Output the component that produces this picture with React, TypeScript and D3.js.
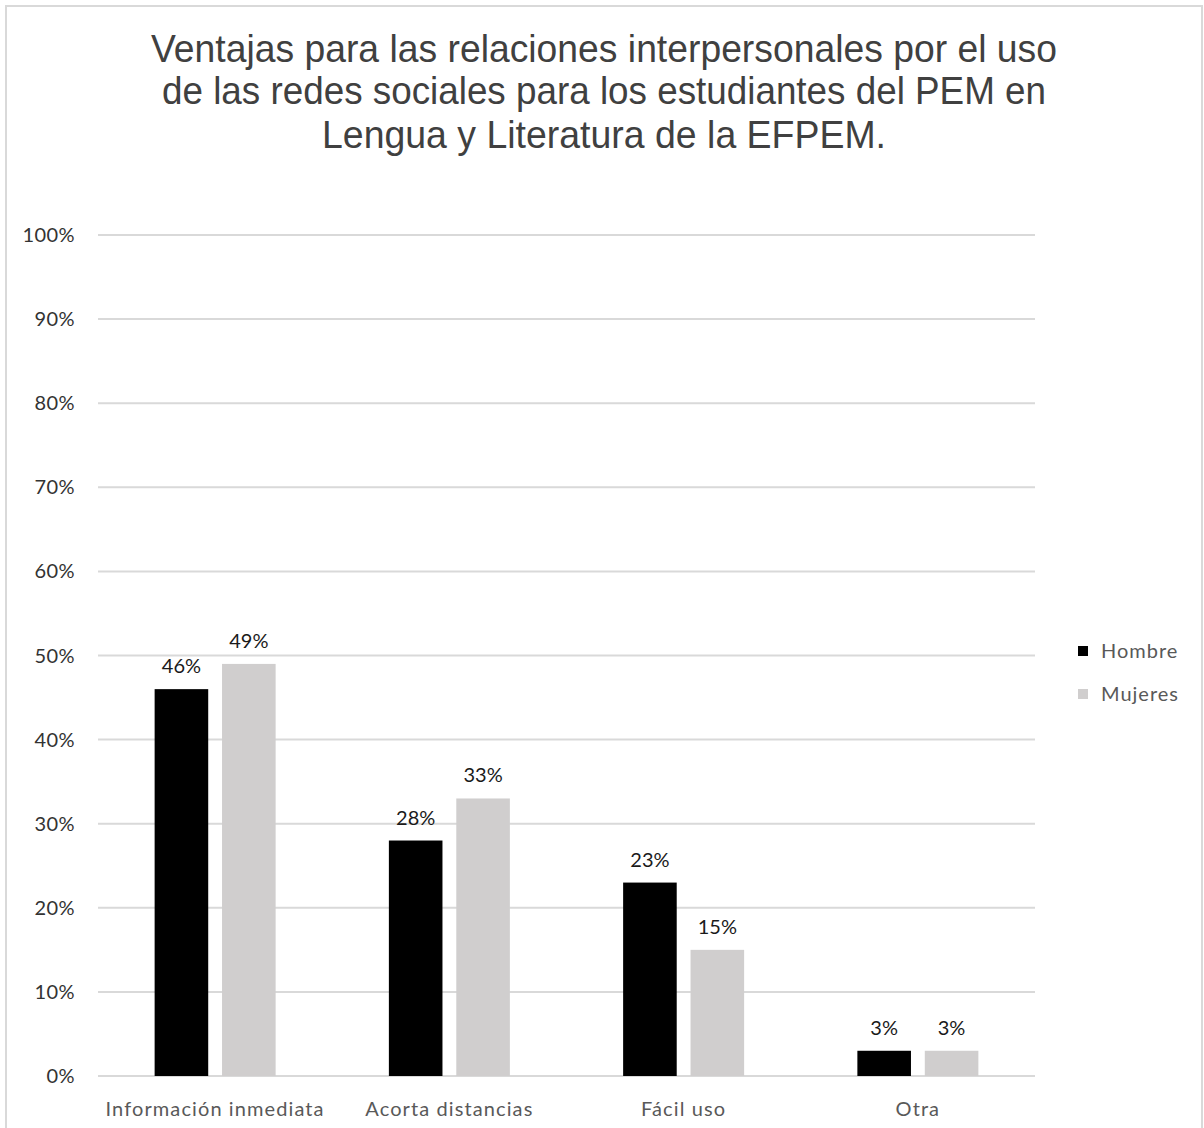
import React from "react";
import * as d3 from "d3";

const categories = ["Información inmediata", "Acorta distancias", "Fácil uso", "Otra"];
const seriesNames = ["Hombre", "Mujeres"];
const hombreValues = [0.46, 0.28, 0.23, 0.03];
const mujeresValues = [0.49, 0.33, 0.15, 0.03];
const yTicks = [0, 0.1, 0.2, 0.3, 0.4, 0.5, 0.6, 0.7, 0.8, 0.9, 1.0];
const titleLines = [
  "Ventajas para las relaciones interpersonales por el uso",
  "de las redes sociales para los estudiantes del PEM en",
  "Lengua y Literatura de la EFPEM.",
];

const W = 1204;
const H = 1128;
const left = 98;
const right = 1035;
const top = 235;
const bottom = 1076;
const colors = ["#000000", "#D0CECE"];
const FONT = "Lato, 'Open Sans', sans-serif";

export default function App() {
  const x0 = d3.scaleBand<string>().domain(categories).range([left, right]);
  const groupW = 121;
  const x1 = d3.scaleBand<string>().domain(seriesNames).range([0, groupW]).paddingInner(0.205);
  const y = d3.scaleLinear().domain([0, 1]).range([bottom, top]);
  const series = [hombreValues, mujeresValues];
  const fmt = d3.format(".0%");
  const titleWidths = [906, 884, 564];
  const titleBase = [62, 104, 148];

  return (
    <svg width={W} height={H} style={{ position: "absolute", left: 0, top: 0, background: "#fff" }}>
      <rect x={6} y={6} width={1196} height={1130} fill="#fff" stroke="#D9D9D9" strokeWidth={2} />
      {titleLines.map((t, i) => (
        <text
          key={i}
          x={604}
          y={titleBase[i]}
          textAnchor="middle"
          fontFamily="'Liberation Sans', Arial, sans-serif"
          fontSize={39}
          fill="#404040"
          textLength={titleWidths[i]}
          lengthAdjust="spacingAndGlyphs"
        >
          {t}
        </text>
      ))}
      {yTicks.map((t) => (
        <g key={t}>
          <line x1={left} x2={right} y1={y(t)} y2={y(t)} stroke="#D9D9D9" strokeWidth={2} />
          <text x={75} y={y(t)} dy="0.35em" textAnchor="end" fontFamily={FONT} fontSize={20} letterSpacing={0.4} fill="#333">
            {fmt(t)}
          </text>
        </g>
      ))}
      {categories.map((c, ci) => {
        const gx = (x0(c) as number) + (x0.bandwidth() - groupW) / 2;
        return (
          <g key={c}>
            {seriesNames.map((s, si) => {
              const v = series[si][ci];
              const bx = gx + (x1(s) as number);
              return (
                <g key={s}>
                  <rect x={bx} y={y(v)} width={x1.bandwidth()} height={bottom - y(v)} fill={colors[si]} />
                  <text
                    x={bx + x1.bandwidth() / 2}
                    y={y(v) - 16}
                    textAnchor="middle"
                    fontFamily={FONT}
                    fontSize={20}
                    fill="#1a1a1a"
                  >
                    {fmt(v)}
                  </text>
                </g>
              );
            })}
            <text
              x={(x0(c) as number) + x0.bandwidth() / 2}
              y={1109}
              dy="0.35em"
              textAnchor="middle"
              fontFamily={FONT}
              fontSize={20}
              letterSpacing={1.1}
              fill="#595959"
            >
              {c}
            </text>
          </g>
        );
      })}
      {seriesNames.map((s, i) => (
        <g key={s} transform={`translate(1078, ${651 + i * 43})`}>
          <rect x={0} y={-5} width={10} height={10} fill={colors[i]} />
          <text x={23} y={0} dy="0.35em" fontFamily={FONT} fontSize={20} letterSpacing={1} fill="#595959">
            {s}
          </text>
        </g>
      ))}
    </svg>
  );
}
